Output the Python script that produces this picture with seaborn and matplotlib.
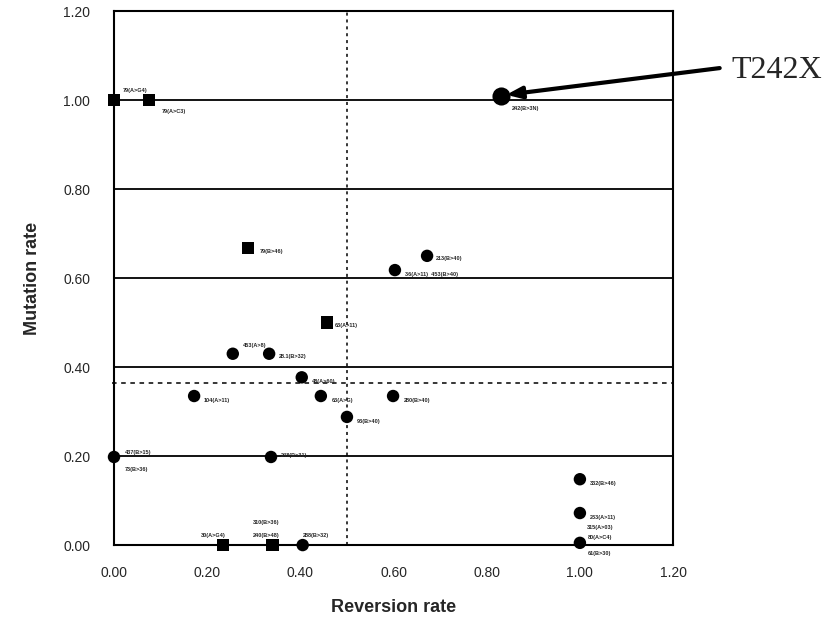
import matplotlib
matplotlib.use("Agg")
import matplotlib.pyplot as plt
import seaborn as sns
import pandas as pd

# ---- data ----
reversion = [0.00, 0.075, 0.83, 0.288, 0.672, 0.603, 0.457, 0.255, 0.333, 0.403,
             0.172, 0.444, 0.599, 0.500, 0.00, 0.337, 1.00, 1.00, 1.00, 0.234, 0.340, 0.405]
mutation = [1.00, 1.00, 1.01, 0.667, 0.650, 0.618, 0.500, 0.430, 0.430, 0.377,
            0.335, 0.335, 0.335, 0.288, 0.198, 0.198, 0.148, 0.072, 0.005, 0.00, 0.00, 0.00]
kind = ["A", "A", "T", "A", "B", "B", "A", "B", "B", "B",
        "B", "B", "B", "B", "B", "B", "B", "B", "B", "A", "A", "B"]
labels = ["79(A>G4)", "79(A>C3)", "242(B>3N)", "79(B>46)", "213(B>40)", "36(A>11)  453(B>40)",
          "63(A>11)", "453(A>8)", "28.1(B>32)", "48(A>60)", "104(A>11)", "63(A>G)",
          "280(B>40)", "93(B>40)", "437(B>15)", "248(B>31)", "332(B>46)", "233(A>11)",
          "61(B>30)", "30(A>G4)", "240(B>48)", "288(B>32)"]
extra_labels = ["73(B>36)", "315(A>03)", "80(A>C4)", "310(B>36)"]
extra_x = [0.00, 1.00, 1.00, 0.340]
extra_y = [0.198, 0.005, 0.005, 0.00]

grid_levels = [0.2, 0.4, 0.6, 0.8, 1.0]
mean_mutation = 0.365
mean_reversion = 0.50
ticks = [0.0, 0.2, 0.4, 0.6, 0.8, 1.0, 1.2]

callout_text = "T242X"
callout_text_pos = (1.326, 1.067)
callout_tail = (1.300, 1.072)

df = pd.DataFrame({"Reversion rate": reversion, "Mutation rate": mutation, "kind": kind})

# label offsets in points (layout only)
offsets = [(6, 7), (9, -8), (8, -9), (8, -2), (6, -2), (7, -3),
           (6, -2), (7, 6), (7, -2), (7, -3), (7, -3), (8, -3),
           (8, -3), (7, -3), (8, 3), (7, 1), (7, -3), (7, -3),
           (6, -8), (-16, 7), (-14, 7), (0, 7)]
extra_offsets = [(8, -9), (5, 11), (6, 4), (-14, 16)]

sns.set_style("white")
plt.rcParams["font.family"] = ["Liberation Sans", "DejaVu Sans"]

fig = plt.figure(figsize=(8.32, 6.18), dpi=100)
ax = fig.add_axes([0.137, 0.118, 0.672, 0.864])

for g in grid_levels:
    ax.axhline(g, color="black", lw=1.3, zorder=1)
ax.axhline(mean_mutation, color="black", lw=1.1, ls=(0, (3, 3)), zorder=1,
           xmin=-0.004, clip_on=False)
ax.axvline(mean_reversion, color="black", lw=1.1, ls=(0, (2, 2.5)), zorder=1)

sns.scatterplot(data=df[df.kind != "T"], x="Reversion rate", y="Mutation rate",
                style="kind", markers={"A": "s", "B": "o"}, color="black",
                s=80, edgecolor="black", linewidth=0, legend=False, ax=ax,
                zorder=3, clip_on=False)
sns.scatterplot(data=df[df.kind == "T"], x="Reversion rate", y="Mutation rate",
                marker="o", color="black", s=170, edgecolor="black", linewidth=0,
                legend=False, ax=ax, zorder=3, clip_on=False)

for xv, yv, lab, off in zip(reversion, mutation, labels, offsets):
    ax.annotate(lab, (xv, yv), xytext=off, textcoords="offset points",
                fontsize=4, fontweight="bold", va="center", ha="left",
                annotation_clip=False)
for xv, yv, lab, off in zip(extra_x, extra_y, extra_labels, extra_offsets):
    ax.annotate(lab, (xv, yv), xytext=off, textcoords="offset points",
                fontsize=4, fontweight="bold", va="center", ha="left",
                annotation_clip=False)

ti = kind.index("T")
ax.annotate("", xy=(reversion[ti] + 0.012, mutation[ti] + 0.002),
            xytext=callout_tail, textcoords="data",
            arrowprops=dict(arrowstyle="-|>,head_length=0.9,head_width=0.35",
                            color="black", lw=3.0, shrinkA=0, shrinkB=0),
            annotation_clip=False)
ax.text(*callout_text_pos, callout_text, fontsize=23, family="Liberation Serif",
        va="center", ha="left", clip_on=False)

ax.set_xlim(0, 1.2)
ax.set_ylim(0, 1.2)
ax.set_xticks(ticks)
ax.set_yticks(ticks)
ax.set_xticklabels([f"{t:.2f}" for t in ticks])
ax.set_yticklabels([f"{t:.2f}" for t in ticks])
ax.tick_params(axis="both", length=0, labelsize=10)
ax.tick_params(axis="y", pad=17)
ax.tick_params(axis="x", pad=15)
for sp in ax.spines.values():
    sp.set_color("black")
    sp.set_linewidth(1.5)
ax.set_xlabel("Reversion rate", fontsize=13, fontweight="bold", labelpad=14)
ax.set_ylabel("Mutation rate", fontsize=13, fontweight="bold", labelpad=16)

fig.savefig("out.png", dpi=100)
